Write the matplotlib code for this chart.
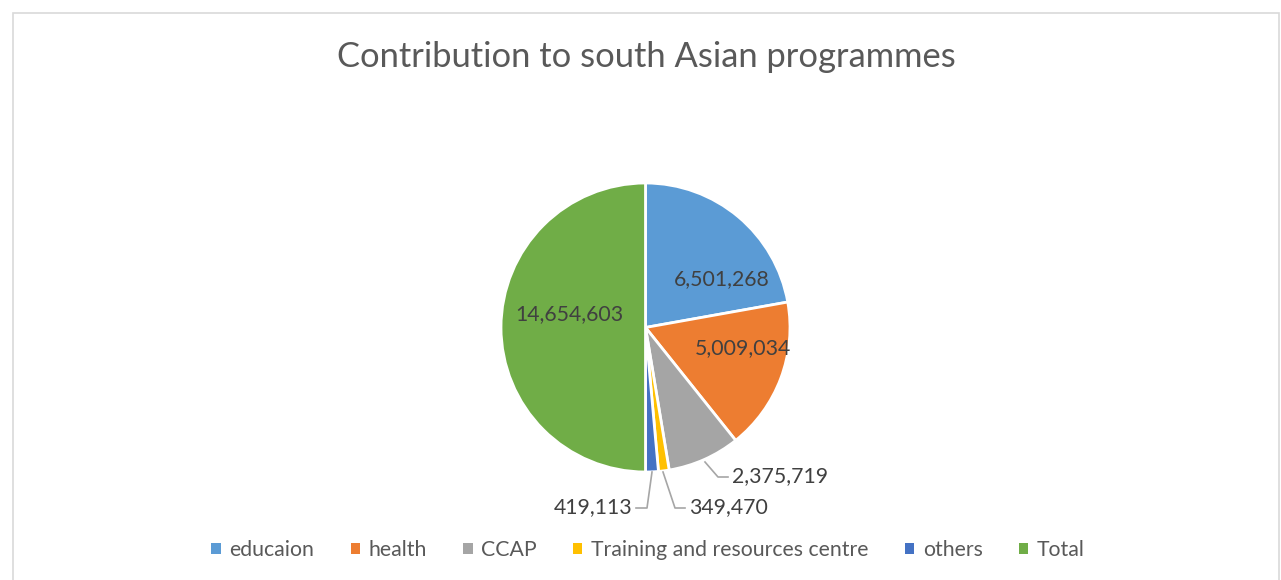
import matplotlib.pyplot as plt
from matplotlib.patches import Rectangle, Patch

categories = ['educaion', 'health', 'CCAP', 'Training and resources centre', 'others', 'Total']
values = [6501268, 5009034, 2375719, 349470, 419113, 14654603]
colors = ['#5B9BD5', '#ED7D31', '#A5A5A5', '#FFC000', '#4472C4', '#70AD47']

plt.rcParams['font.family'] = ['Lato', 'DejaVu Sans']

W, H = 1281, 580
fig = plt.figure(figsize=(W / 100, H / 100), dpi=100)
ax = fig.add_axes([0, 0, 1, 1])
ax.set_xlim(0, W)
ax.set_ylim(0, H)
ax.set_aspect('equal')
ax.axis('off')

# chart frame
ax.add_patch(Rectangle((12.5, -5), 1266, H - 12.5 + 5, fill=False,
                       edgecolor='#D9D9D9', linewidth=1.2))

cx, cy, r = 645.5, H - 327.5, 144.5
wedges, _ = ax.pie(values, colors=colors, startangle=90, counterclock=False,
                   center=(cx, cy), radius=r, frame=True,
                   wedgeprops=dict(edgecolor='white', linewidth=2))
ax.set_xlim(0, W)
ax.set_ylim(0, H)
ax.axis('off')

txt = '#404040'
fs = 15.3
labels = [f'{v:,}' for v in values]

# inside labels (pixel positions from top-left)
inside = {0: (722, 279), 1: (743, 348), 5: (569, 314)}
for i, (x, y) in inside.items():
    ax.text(x, H - y, labels[i], ha='center', va='center', fontsize=fs, color=txt)

# outside labels with leader lines
lead = '#A6A6A6'
outside = {
    2: ([(705, 462), (718, 477), (728, 477)], (732, 476), 'left'),
    3: ([(663, 472), (675, 508), (685, 508)], (689, 507), 'left'),
    4: ([(652, 472), (647, 508), (636, 508)], (632, 507), 'right'),
}
for i, (pts, (tx, ty), ha) in outside.items():
    ax.plot([p[0] for p in pts], [H - p[1] for p in pts], color=lead, linewidth=1.2)
    ax.text(tx, H - ty, labels[i], ha=ha, va='center', fontsize=fs, color=txt)

ax.text(646, H - 57, 'Contribution to south Asian programmes', ha='center',
        va='center', fontsize=24.8, color='#595959')

handles = [Patch(facecolor=c, edgecolor='none') for c in colors]
fig.legend(handles, categories, loc='center', bbox_to_anchor=(648 / W, 1 - 550 / H),
           ncol=6, frameon=False, fontsize=15.3, labelcolor='#595959',
           handlelength=0.45, handleheight=0.45, handletextpad=0.4,
           columnspacing=1.7)

fig.savefig('out.png', dpi=100)
